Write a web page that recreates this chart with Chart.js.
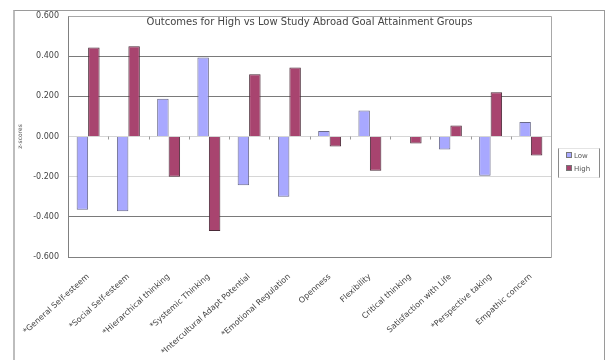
<!DOCTYPE html>
<html>
<head>
<meta charset="utf-8">
<script src="https://cdn.jsdelivr.net/npm/chart.js@4/dist/chart.umd.min.js"></script>
<style>
  html, body { margin: 0; padding: 0; background: #fff; }
  #wrap { position: relative; width: 613px; height: 360px; overflow: hidden; font-family: "DejaVu Sans", Verdana, sans-serif; }
  #frame { position: absolute; left: 13px; top: 10px; width: 589px; height: 360px;
           border-top: 1px solid #9a9a9a; border-right: 1px solid #9a9a9a; border-left: 2px solid #bdbdbd; }
  #title { position: absolute; left: 68px; width: 483px; top: 16px; text-align: center;
           font-size: 10px; color: #444; white-space: nowrap; }
  #legend { position: absolute; left: 558px; top: 148px; width: 40px; height: 28px;
            border-left: 1px solid #8a8a8a; border-right: 1px solid #8a8a8a;
            border-top: 1px solid #e4e4e4; border-bottom: 1px solid #e4e4e4; }
  .item { position: absolute; left: 7px; font-size: 7px; color: #555; line-height: 8px; white-space: nowrap; }
  .sw { display: inline-block; width: 4px; height: 4px; margin-right: 2px; vertical-align: 0px; border: 1px solid #777; }
  canvas { position: absolute; left: 0; top: 0; }
</style>
</head>
<body>
<div id="wrap">
  <div id="frame"></div>
  <canvas id="c" width="613" height="360"></canvas>
  <div id="title"></div>
  <div id="legend"></div>
</div>
<script>
// Outcome measures (asterisk marks significant differences)
const categories = [
  "*General Self-esteem",
  "*Social Self-esteem",
  "*Hierarchical thinking",
  "*Systemic Thinking",
  "*Intercultural Adapt Potential",
  "*Emotional Regulation",
  "Openness",
  "Flexibility",
  "Critical thinking",
  "Satisfaction with Life",
  "*Perspective taking",
  "Empathic concern"
];

// Mean z-scores per goal-attainment group
const lowValues  = [-0.365, -0.372, 0.188, 0.393, -0.243, -0.300, 0.028, 0.130, 0.003, -0.065, -0.195, 0.072];
const highValues = [ 0.443,  0.450, -0.200, -0.470, 0.310, 0.343, -0.050, -0.170, -0.035, 0.055, 0.220, -0.095];

const yTicks = [0.6, 0.4, 0.2, 0.0, -0.2, -0.4, -0.6];
const seriesNames = ["Low", "High"];
const seriesColors = ["#a8a8ff", "#a8446f"];
const chartTitle = "Outcomes for High vs Low Study Abroad Goal Attainment Groups";
const yTitle = "z-scores";

document.getElementById("title").textContent = chartTitle;

const legendEl = document.getElementById("legend");
seriesNames.forEach((name, i) => {
  const d = document.createElement("div");
  d.className = "item";
  d.style.top = (3 + i * 13) + "px";
  d.innerHTML = '<span class="sw" style="background:' + seriesColors[i] + '"></span>' + name;
  legendEl.appendChild(d);
});

// Plot frame plus the small category tick marks along the zero line
const framePlugin = {
  id: "frame",
  afterDatasetsDraw(chart) {
    const { ctx, chartArea: a, scales } = chart;
    ctx.save();
    const y0 = scales.y.getPixelForValue(0);
    ctx.strokeStyle = "#9a9a9a";
    ctx.lineWidth = 1;
    const n = categories.length;
    for (let i = 0; i <= n; i++) {
      let x;
      if (i === 0) x = a.left;
      else if (i === n) x = a.right;
      else x = (scales.x.getPixelForValue(i - 1) + scales.x.getPixelForValue(i)) / 2;
      ctx.beginPath();
      ctx.moveTo(Math.round(x) + 0.5, y0);
      ctx.lineTo(Math.round(x) + 0.5, y0 + 3);
      ctx.stroke();
    }
    ctx.strokeStyle = "#808080";
    ctx.beginPath();
    ctx.moveTo(a.left + 0.5, a.top + 0.5);
    ctx.lineTo(a.left + 0.5, a.bottom + 0.5);
    ctx.lineTo(a.right + 0.5, a.bottom + 0.5);
    ctx.stroke();
    ctx.strokeStyle = "#a8a8a8";
    ctx.beginPath();
    ctx.moveTo(a.right + 0.5, a.bottom + 0.5);
    ctx.lineTo(a.right + 0.5, a.top + 0.5);
    ctx.lineTo(a.left + 0.5, a.top + 0.5);
    ctx.stroke();
    ctx.restore();
  }
};

new Chart(document.getElementById("c"), {
  type: "bar",
  data: {
    labels: categories,
    datasets: [
      { label: seriesNames[0], data: lowValues, backgroundColor: seriesColors[0], borderColor: "#6a6a8a", borderWidth: 1 },
      { label: seriesNames[1], data: highValues, backgroundColor: seriesColors[1], borderColor: "#4a2a38", borderWidth: 1 }
    ]
  },
  options: {
    responsive: false,
    animation: false,
    devicePixelRatio: 1,
    layout: { padding: { left: 14, right: 62, top: 16, bottom: 0 } },
    datasets: { bar: { categoryPercentage: 0.57, barPercentage: 1.0 } },
    plugins: { legend: { display: false }, title: { display: false }, tooltip: { enabled: false } },
    scales: {
      x: {
        grid: { display: false },
        border: { display: false },
        ticks: {
          autoSkip: false,
          maxRotation: 42,
          minRotation: 42,
          padding: 7,
          color: "#444",
          font: { family: "DejaVu Sans", size: 8 }
        },
        afterFit(scale) { scale.height = 103; }
      },
      y: {
        min: -0.6,
        max: 0.6,
        afterBuildTicks(scale) { scale.ticks = yTicks.map(v => ({ value: v })); },
        border: { display: false },
        grid: {
          drawTicks: false,
          lineWidth: 1,
          color: (c) => {
            const v = Math.round(c.tick.value * 10) / 10;
            if (v === 0 || v === -0.2) return "#d6d6d6";
            return "#7a7a7a";
          }
        },
        ticks: {
          padding: 9,
          color: "#444",
          font: { family: "DejaVu Sans", size: 8 },
          callback: (v) => Number(v).toFixed(3)
        },
        title: {
          display: true,
          text: yTitle,
          color: "#555",
          padding: { top: 3, bottom: 0 },
          font: { family: "DejaVu Sans", size: 6 }
        },
        afterFit(scale) { scale.width = 54; }
      }
    }
  },
  plugins: [framePlugin]
});
</script>
</body>
</html>
